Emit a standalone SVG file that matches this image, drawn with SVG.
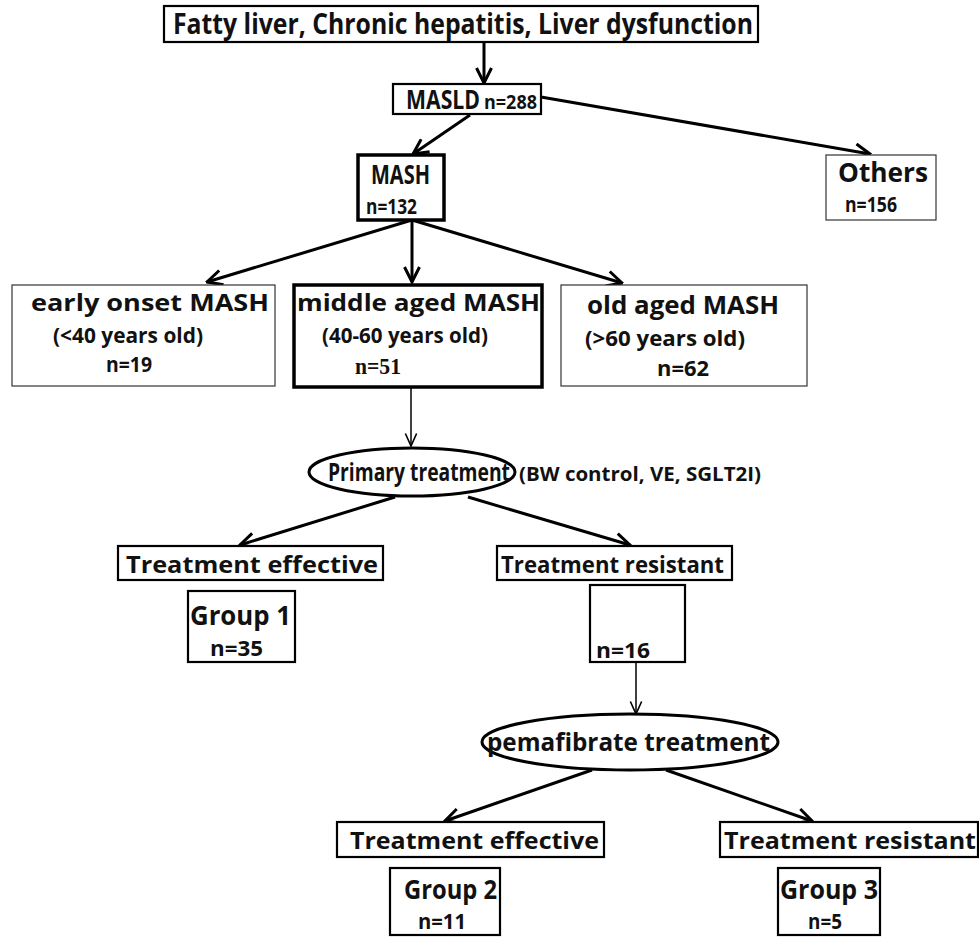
<svg xmlns="http://www.w3.org/2000/svg" width="979" height="939" viewBox="0 0 979 939">
<style>
text{font-family:"Open Sans","Noto Sans","Liberation Sans",sans-serif;font-weight:bold;fill:#111}
.b{fill:#fff;stroke:#000;stroke-width:2.2}
.bt{fill:#fff;stroke:#000;stroke-width:3.5}
.bn{fill:#fff;stroke:#333;stroke-width:1.2}
.c{stroke:#000;stroke-width:3;fill:none}
.ct{stroke:#000;stroke-width:1.5;fill:none}
.s{font-family:"Liberation Serif",serif}
</style>
<defs>
<marker id="a" viewBox="0 0 12 12" refX="11" refY="6" markerWidth="6" markerHeight="6" markerUnits="strokeWidth" orient="auto"><path d="M1,1 L11,6 L1,11" fill="none" stroke="#000" stroke-width="2"/></marker>
<marker id="at" viewBox="0 0 12 12" refX="11" refY="6" markerWidth="10" markerHeight="10" markerUnits="strokeWidth" orient="auto"><path d="M1,1.5 L11,6 L1,10.5" fill="none" stroke="#000" stroke-width="1.3"/></marker>
</defs>
<g id="connectors">
<line class="c" x1="484" y1="42" x2="484" y2="83" marker-end="url(#a)"/>
<line class="c" x1="470" y1="115" x2="413" y2="154" marker-end="url(#a)"/>
<line class="c" x1="541" y1="97" x2="870" y2="154" marker-end="url(#a)"/>
<line class="c" x1="412" y1="220" x2="207" y2="282" marker-end="url(#a)"/>
<line class="c" x1="412" y1="220" x2="412" y2="282" marker-end="url(#a)"/>
<line class="c" x1="412" y1="220" x2="622" y2="283" marker-end="url(#a)"/>
<line class="ct" x1="411" y1="388" x2="411" y2="446" marker-end="url(#at)"/>
<line class="c" x1="395" y1="497" x2="240" y2="545" marker-end="url(#a)"/>
<line class="c" x1="468" y1="497" x2="630" y2="545" marker-end="url(#a)"/>
<line class="ct" x1="636" y1="662" x2="636" y2="714" marker-end="url(#at)"/>
<line class="c" x1="592" y1="770" x2="445" y2="821" marker-end="url(#a)"/>
<line class="c" x1="666" y1="770" x2="812" y2="821" marker-end="url(#a)"/>
</g>
<g id="n_top"><rect class="b" x="164" y="6" width="594" height="36"/><text x="173" y="34" font-size="28" textLength="580" lengthAdjust="spacingAndGlyphs">Fatty liver, Chronic hepatitis, Liver dysfunction</text></g>
<g id="n_masld"><rect class="b" x="393" y="84" width="148" height="30"/><text x="406" y="109" font-size="26" textLength="74" lengthAdjust="spacingAndGlyphs">MASLD</text><text x="484" y="109" font-size="19" textLength="53" lengthAdjust="spacingAndGlyphs">n=288</text></g>
<g id="n_mash"><rect class="bt" x="358" y="155" width="86" height="65"/><text x="371" y="184" font-size="27" textLength="59" lengthAdjust="spacingAndGlyphs">MASH</text><text x="366" y="214" font-size="22" textLength="51" lengthAdjust="spacingAndGlyphs">n=132</text></g>
<g id="n_others"><rect class="bn" x="826" y="155" width="110" height="65"/><text x="838" y="182" font-size="26" textLength="90" lengthAdjust="spacingAndGlyphs">Others</text><text x="845" y="212" font-size="22" textLength="52" lengthAdjust="spacingAndGlyphs">n=156</text></g>
<g id="n_early"><rect class="bn" x="12" y="285" width="263" height="101"/><text x="31" y="311" font-size="24" textLength="238" lengthAdjust="spacingAndGlyphs">early onset   MASH</text><text x="53" y="343" font-size="21" textLength="150" lengthAdjust="spacingAndGlyphs">(&lt;40 years old)</text><text x="106" y="372" font-size="21" textLength="46" lengthAdjust="spacingAndGlyphs">n=19</text></g>
<g id="n_middle"><rect class="bt" x="294" y="285" width="248" height="102"/><text x="297" y="311" font-size="24" textLength="243" lengthAdjust="spacingAndGlyphs">middle aged MASH</text><text x="322" y="343" font-size="21" textLength="166" lengthAdjust="spacingAndGlyphs">(40-60 years old)</text><text class="s" x="355" y="374" font-size="24" textLength="46" lengthAdjust="spacingAndGlyphs">n=51</text></g>
<g id="n_old"><rect class="bn" x="561" y="285" width="246" height="101"/><text x="587" y="314" font-size="25" textLength="192" lengthAdjust="spacingAndGlyphs">old aged MASH</text><text x="585" y="346" font-size="21" textLength="160" lengthAdjust="spacingAndGlyphs">(&gt;60 years old)</text><text x="657" y="376" font-size="21" textLength="52" lengthAdjust="spacingAndGlyphs">n=62</text></g>
<g id="n_primary"><ellipse cx="412" cy="472" rx="103" ry="24" fill="#fff" stroke="#000" stroke-width="3"/><text x="328" y="481" font-size="25" textLength="182" lengthAdjust="spacingAndGlyphs">Primary treatment</text></g>
<g id="n_primary_note"><text x="519" y="481" font-size="19" textLength="242" lengthAdjust="spacingAndGlyphs">(BW control, VE, SGLT2I)</text></g>
<g id="n_eff1"><rect class="b" x="118" y="546" width="265" height="34"/><text x="126" y="573" font-size="23" textLength="252" lengthAdjust="spacingAndGlyphs">Treatment effective</text></g>
<g id="n_res1"><rect class="b" x="497" y="546" width="235" height="34"/><text x="501" y="573" font-size="23" textLength="223" lengthAdjust="spacingAndGlyphs">Treatment resistant</text></g>
<g id="n_g1"><rect class="b" x="188" y="591" width="107" height="71"/><text x="190" y="625" font-size="26" textLength="101" lengthAdjust="spacingAndGlyphs">Group 1</text><text x="210" y="656" font-size="21" textLength="53" lengthAdjust="spacingAndGlyphs">n=35</text></g>
<g id="n_16"><rect class="b" x="590" y="585" width="95" height="77"/><text x="596" y="658" font-size="21" textLength="54" lengthAdjust="spacingAndGlyphs">n=16</text></g>
<g id="n_pema"><ellipse cx="630" cy="742" rx="148" ry="28" fill="#fff" stroke="#000" stroke-width="3"/><text x="487" y="751" font-size="25" textLength="283" lengthAdjust="spacingAndGlyphs">pemafibrate treatment</text></g>
<g id="n_eff2"><rect class="b" x="337" y="822" width="267" height="35"/><text x="350" y="849" font-size="23" textLength="249" lengthAdjust="spacingAndGlyphs">Treatment effective</text></g>
<g id="n_res2"><rect class="b" x="720" y="822" width="258" height="35"/><text x="724" y="849" font-size="23" textLength="252" lengthAdjust="spacingAndGlyphs">Treatment resistant</text></g>
<g id="n_g2"><rect class="b" x="390" y="868" width="110" height="67"/><text x="404" y="899" font-size="26" textLength="93" lengthAdjust="spacingAndGlyphs">Group 2</text><text x="418" y="929" font-size="21" textLength="48" lengthAdjust="spacingAndGlyphs">n=11</text></g>
<g id="n_g3"><rect class="b" x="778" y="868" width="102" height="67"/><text x="780" y="899" font-size="26" textLength="98" lengthAdjust="spacingAndGlyphs">Group 3</text><text x="808" y="929" font-size="21" textLength="34" lengthAdjust="spacingAndGlyphs">n=5</text></g>
</svg>
